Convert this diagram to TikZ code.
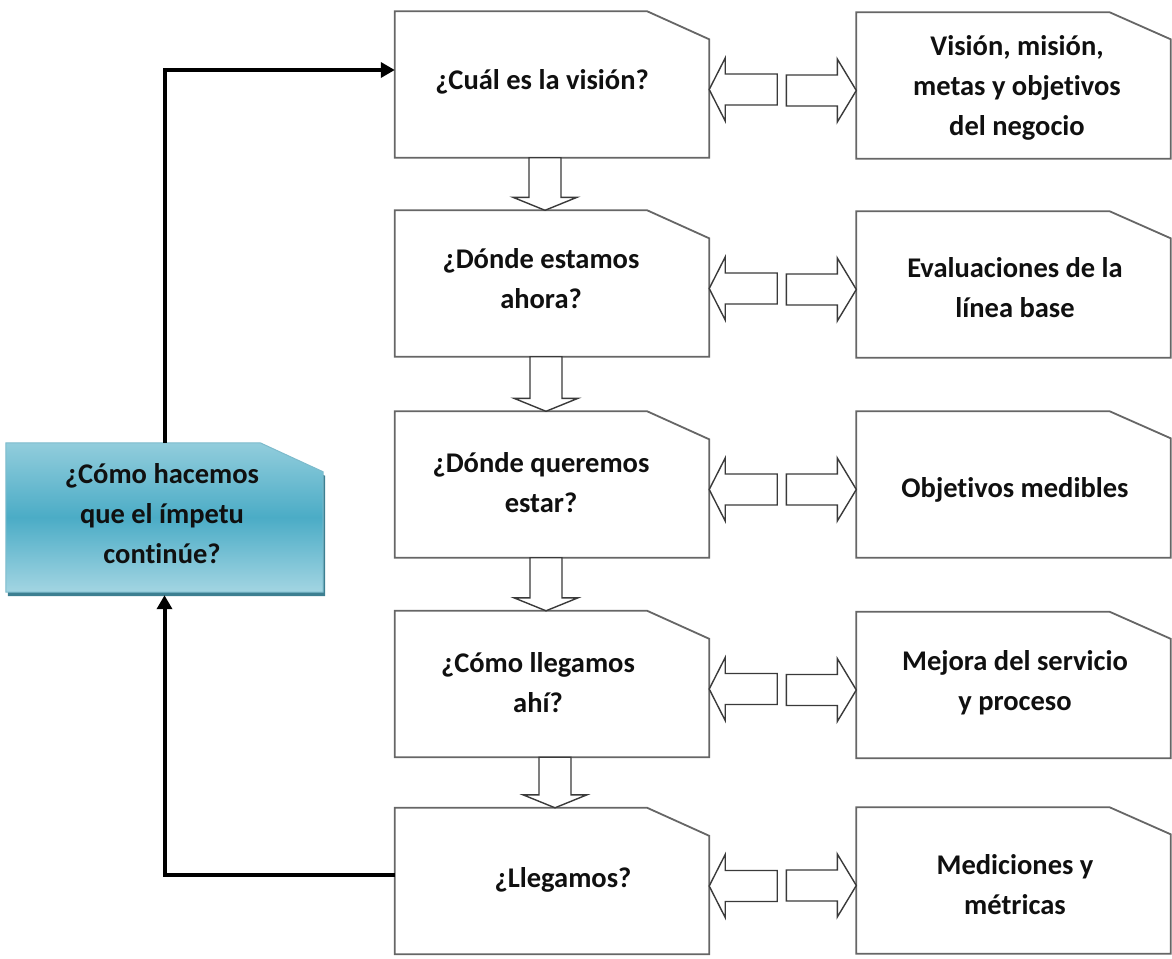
\documentclass[tikz,border=0pt]{standalone}
\usepackage{fontspec}
\setmainfont{Carlito}[Ligatures=NoCommon]
\usetikzlibrary{calc,arrows.meta}

\definecolor{boxline}{HTML}{666666}
\definecolor{arrline}{HTML}{3A3A3A}
\definecolor{txt}{HTML}{101010}
\definecolor{tealtop}{HTML}{92CDDC}
\definecolor{tealmid}{HTML}{4BACC6}
\definecolor{tealbot}{HTML}{A3D5E2}
\definecolor{tealedge}{HTML}{7DBBCC}
\definecolor{tealshadow}{HTML}{3D7F91}

\tikzset{
  boxframe/.style={draw=boxline, line width=1.8pt, fill=white, line join=miter},
  boxbase/.style={inner sep=0pt, minimum width=314pt, minimum height=146pt},
  lbl/.style={align=center, inner sep=0pt,
    font=\fontsize{28.5}{40}\selectfont\bfseries, text=txt},
  blockarr/.style={draw=arrline, line width=1.4pt, fill=white, line join=miter},
  feedback/.style={line width=4pt, -{Triangle[length=14pt,width=15pt]}},
}

% outline of a box with its upper right corner cut off
\newcommand{\cutoutline}[3]{%
  (#1.south west) -- (#1.north west) -- ([xshift=-#2pt]#1.north east)
  -- ([yshift=-#3pt]#1.north east) -- (#1.south east) -- cycle}

% hollow block arrow pointing down from one box to the next
\newcommand{\downblock}[3]{%
  \draw[blockarr] ([xshift={#3-16}]#1.south) -- ([xshift={#3+16}]#1.south)
    -- ([xshift={#3+16},yshift=13]#2.north) -- ([xshift={#3+32},yshift=13]#2.north)
    -- ([xshift={#3}]#2.north) -- ([xshift={#3-32},yshift=13]#2.north)
    -- ([xshift={#3-16},yshift=13]#2.north) -- cycle;}

% pair of hollow block arrows between a question and its answer
\newcommand{\sideblocks}[2]{%
  \draw[blockarr] ([yshift=-5]#1.east)
    -- ([xshift=16,yshift=26.5]#1.east) -- ([xshift=16,yshift=10.5]#1.east)
    -- ([xshift=68,yshift=10.5]#1.east) -- ([xshift=68,yshift=-20.5]#1.east)
    -- ([xshift=16,yshift=-20.5]#1.east) -- ([xshift=16,yshift=-36.5]#1.east) -- cycle;
  \draw[blockarr] ([yshift=-5]#2.west)
    -- ([xshift=-19,yshift=26.5]#2.west) -- ([xshift=-19,yshift=10.5]#2.west)
    -- ([xshift=-70,yshift=10.5]#2.west) -- ([xshift=-70,yshift=-20.5]#2.west)
    -- ([xshift=-19,yshift=-20.5]#2.west) -- ([xshift=-19,yshift=-36.5]#2.west) -- cycle;}

\begin{document}
\begin{tikzpicture}[x=1pt,y=-1pt]
\useasboundingbox (0,0) rectangle (1172,958);

% question boxes
\foreach \n/\yy in {m1/84.5, m2/283.5, m3/484.5, m4/684, m5/881}{
  \node[boxbase] (\n) at (552,\yy) {};
  \draw[boxframe] \cutoutline{\n}{62}{28};
}
% answer boxes
\foreach \n/\yy in {r1/85.5, r2/284.5, r3/484.5, r4/685, r5/880.5}{
  \node[boxbase] (\n) at (1013.5,\yy) {};
  \draw[boxframe] \cutoutline{\n}{61}{27};
}

% hollow arrows
\downblock{m1}{m2}{-7}
\downblock{m2}{m3}{-6}
\downblock{m3}{m4}{-6}
\downblock{m4}{m5}{3}
\sideblocks{m1}{r1}
\sideblocks{m2}{r2}
\sideblocks{m3}{r3}
\sideblocks{m4}{r4}
\sideblocks{m5}{r5}

% loop box
\node[inner sep=0pt, minimum width=317pt, minimum height=149pt] (lb) at (164.5,517.5) {};
\fill[tealshadow] ([xshift=2pt,yshift=-4pt]lb.south west) -- ([xshift=2pt,yshift=-4pt]lb.north west)
  -- ([xshift=-61pt,yshift=-4pt]lb.north east) -- ([xshift=2pt,yshift=-33pt]lb.north east)
  -- ([xshift=2pt,yshift=-4pt]lb.south east) -- cycle;
\shade[top color=tealtop, bottom color=tealbot, middle color=tealmid] \cutoutline{lb}{63}{29};
\draw[tealedge, line width=1pt, line join=miter] \cutoutline{lb}{63}{29};

% feedback loop
\draw[feedback] ([yshift=6pt]m5.west) -| ([yshift=-3pt]lb.south);
\draw[feedback] (lb.north) |- ([yshift=14.5pt]m1.west);

% labels
\node[lbl] (m1t) at (542,82) {¿Cuál es la visión?};
\node[lbl] (m2t) at (541,279) {¿Dónde estamos\\ahora?};
\node[lbl] (m3t) at (541,483) {¿Dónde queremos\\estar?};
\node[lbl] (m4t) at (538,683) {¿Cómo llegamos\\ahí?};
\node[lbl] (m5t) at (563,880) {¿Llegamos?};
\node[lbl] (r1t) at (1017,88) {Visión, misión,\\metas y objetivos\\del negocio};
\node[lbl] (r2t) at (1015,288) {Evaluaciones de la\\línea base};
\node[lbl] (r3t) at (1015,490) {Objetivos medibles};
\node[lbl] (r4t) at (1015,683) {Mejora del servicio\\y proceso};
\node[lbl] (r5t) at (1015,885) {Mediciones y\\métricas};
\node[lbl] (lbt) at (162,514) {¿Cómo hacemos\\que el ímpetu\\continúe?};
\end{tikzpicture}
\end{document}
